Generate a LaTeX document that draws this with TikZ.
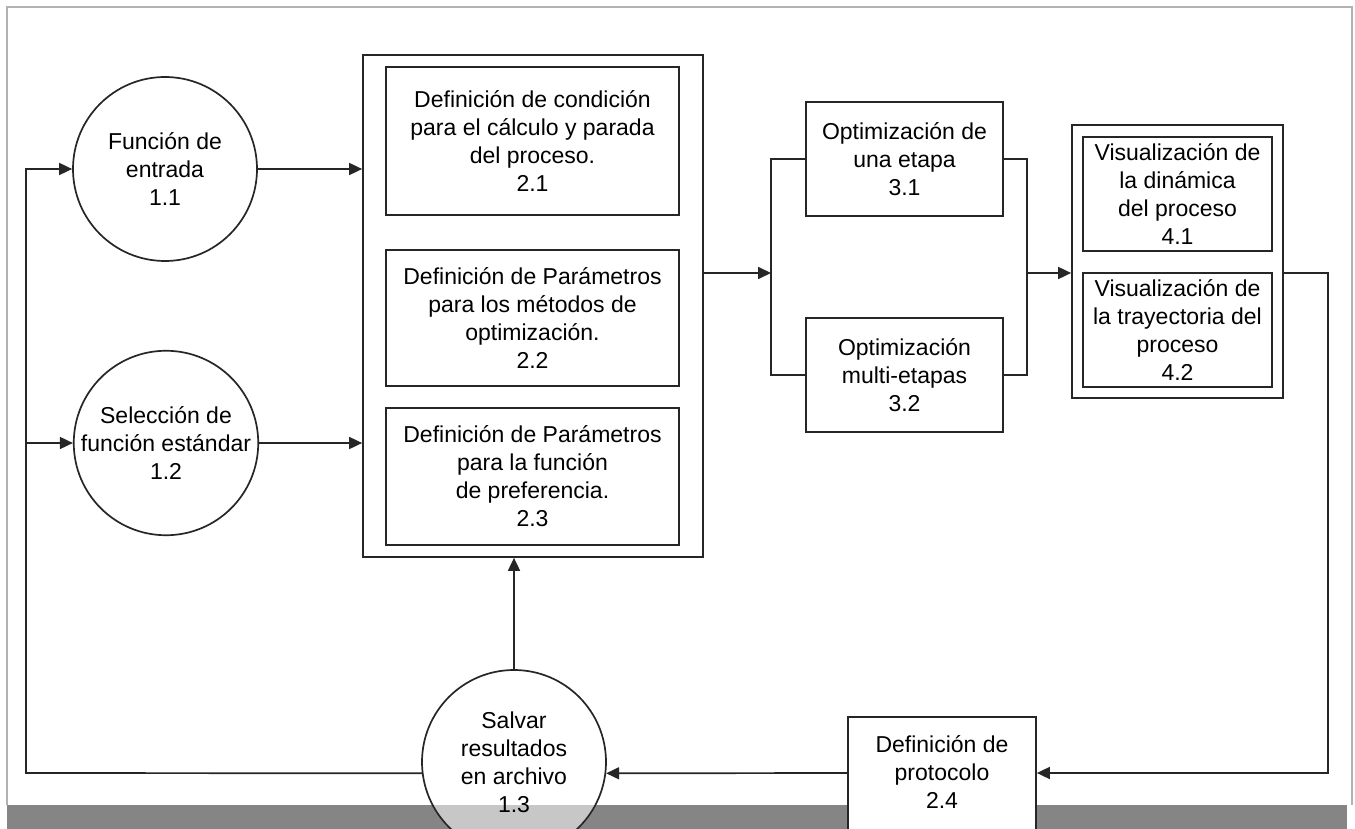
\documentclass[tikz,border=0pt]{standalone}
\usepackage{fontspec}
\setmainfont{Liberation Sans}
\usetikzlibrary{arrows.meta}
\newcommand\dfdfont{\fontsize{23}{28}\selectfont}
\begin{document}
\begin{tikzpicture}[x=1pt,y=-1pt,
  ln/.style={line width=1.7pt, draw=black!85},
  arr/.style={ln, -{Triangle[length=13pt,width=12pt]}},
  procbox/.style={ln, rectangle, fill=white, inner sep=0pt, align=center, font=\dfdfont},
  bubble/.style={ln, circle, minimum size=184pt, inner sep=0pt, align=center, fill=white, font=\dfdfont},
  plain/.style={inner sep=0pt, align=center, font=\dfdfont}]
\useasboundingbox (0,0) rectangle (1355,829);
\fill[white] (0,0) rectangle (1355,829);
\begin{scope}
\clip (0,0) rectangle (1355,829);
% frame
\draw[black!30, line width=1.2pt] (7,805) -- (7,7) -- (1352,7) -- (1352,805);
% dithered strip
\fill[black!48] (7,805) rectangle (1347,829);
\fill[white] (514,762) circle (92);
\begin{scope}
\clip (514,762) circle (91);
\fill[black!22] (0,805) rectangle (1355,829);
\end{scope}

% nodes
\node[procbox, minimum width=340pt, minimum height=502pt] (b2) at (533,306) {};
\node[procbox, minimum width=293pt, minimum height=148pt] (p21) at (532.5,141) {Definición de condición\\para el cálculo y parada\\del proceso.\\2.1};
\node[procbox, minimum width=293pt, minimum height=136pt] (p22) at (532.5,318) {Definición de Parámetros\\para los métodos de\\optimización.\\2.2};
\node[procbox, minimum width=293pt, minimum height=137pt] (p23) at (532.5,476.5) {Definición de Parámetros\\para la función\\de preferencia.\\2.3};

\node[bubble] (c11) at (165,169) {Función de\\entrada\\1.1};
\node[bubble] (c12) at (166,443) {Selección de\\función estándar\\1.2};
\node[bubble, fill=none] (c13) at (514,762) {Salvar\\resultados\\en archivo\\1.3};

\node[procbox, minimum width=197pt, minimum height=114pt] (o31) at (904.5,159) {Optimización de\\una etapa\\3.1};
\node[procbox, minimum width=197pt, minimum height=114pt] (o32) at (904.5,375) {Optimización\\multi-etapas\\3.2};

\node[procbox, minimum width=211pt, minimum height=273pt] (b4) at (1177.5,261.5) {};
\node[procbox, minimum width=189pt, minimum height=114pt] (p41) at (1177.5,194) {Visualización de\\la dinámica\\del proceso\\4.1};
\node[procbox, minimum width=189pt, minimum height=114pt] (p42) at (1177.5,330) {Visualización de\\la trayectoria del\\proceso\\4.2};

\node[procbox, minimum width=188pt, minimum height=146pt] (p24) at (942,790) {};
\node[plain] (p24t) at (942,772) {Definición de\\protocolo\\2.4};

% coordinates
\coordinate (L) at (26,773);
\coordinate (J1) at (771,273);
\coordinate (J2) at (1027,273);
\coordinate (R) at (1328,773);

% connectors
\draw[arr] (c11.east) -- (c11.east -| b2.west);
\draw[arr] (c12.east) -- (c12.east -| b2.west);
\draw[arr] (c13.north) -- (c13.north |- b2.south);
\draw[arr] (c13.187) -- (L) |- (c11.west);
\draw[arr] (L |- c12.west) -- (c12.west);
\draw[arr] (b2.east |- J1) -- (J1);
\draw[ln] (o31.west) -| (J1) |- (o32.west);
\draw[ln] (o31.east) -| (J2) |- (o32.east);
\draw[arr] (J2) -- (J2 -| b4.west);
\draw[arr] (b4.east |- J2) -| (R) -- (R -| p24.east);
\draw[arr] (p24.west |- R) -- (c13.-7);
\end{scope}
\end{tikzpicture}
\end{document}
